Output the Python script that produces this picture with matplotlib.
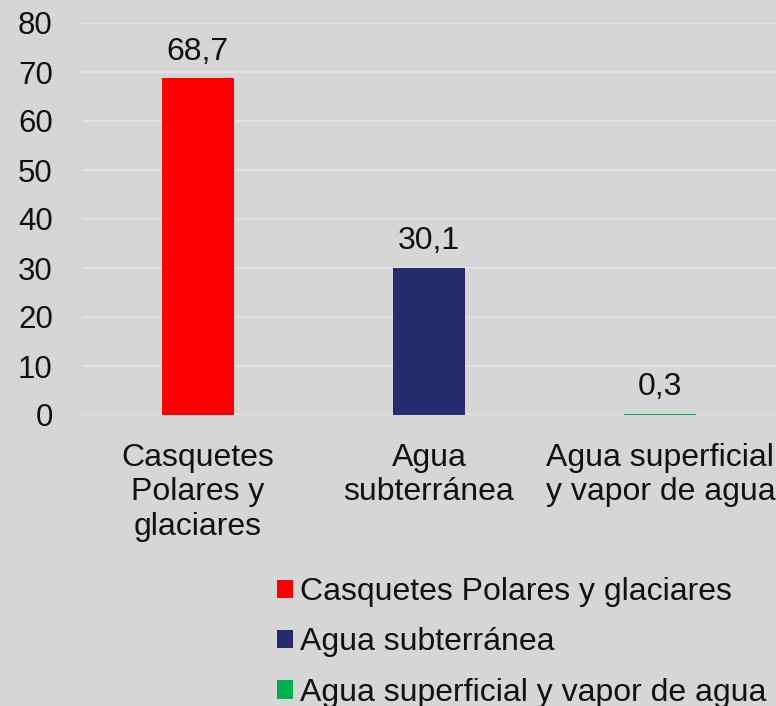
import matplotlib
matplotlib.use("Agg")
import matplotlib.pyplot as plt
from matplotlib.patches import Patch

categories = ["Casquetes\nPolares y\nglaciares", "Agua\nsubterránea", "Agua superficial\ny vapor de agua"]
legend_labels = ["Casquetes Polares y glaciares", "Agua subterránea", "Agua superficial y vapor de agua"]
values = [68.7, 30.1, 0.3]
value_labels = ["68,7", "30,1", "0,3"]
colors = ["#ff0000", "#262a6e", "#00b050"]
yticks = [0, 10, 20, 30, 40, 50, 60, 70, 80]

plt.rcParams['font.family'] = ['Liberation Sans', 'DejaVu Sans']
bg = "#d6d6d6"
fs = 23
fig = plt.figure(figsize=(7.76, 7.06), dpi=100, facecolor=bg)
ax = fig.add_axes([82/776, 1 - 415/706, 1 - 82/776, (415 - 23)/706])
ax.set_facecolor(bg)

x = list(range(len(categories)))
bars = ax.bar(x, values, width=0.31, color=colors, zorder=3)
for xi, v, lab in zip(x, values, value_labels):
    ax.annotate(lab, (xi, v), xytext=(0, 13), textcoords="offset points",
                ha="center", va="baseline", fontsize=fs, color="#111111")

ax.set_ylim(0, 80)
ax.set_xlim(-0.5, 2.5)
ax.set_yticks(yticks)
ax.set_yticklabels([str(t) for t in yticks], fontsize=fs - 0.5, color="#111111")
ax.set_xticks(x)
ax.set_xticklabels(categories, fontsize=fs, color="#111111", linespacing=1.2)
ax.tick_params(axis="y", length=0, pad=21)
ax.tick_params(axis="x", length=0, pad=20)
ax.grid(axis="y", color="#e2e2e2", linewidth=1.5, zorder=0)
for s in ax.spines.values():
    s.set_visible(False)

handles = [Patch(facecolor=c, edgecolor="none") for c in colors]
fig.legend(handles, legend_labels, loc="upper left", bbox_to_anchor=(277/776, 1 - 577/706),
           frameon=False, fontsize=fs, handlelength=0.5, handleheight=0.5,
           handletextpad=0.22, labelspacing=0.64, borderpad=0, borderaxespad=0,
           labelcolor="#111111")

fig.savefig("out.png", dpi=100, facecolor=bg)
